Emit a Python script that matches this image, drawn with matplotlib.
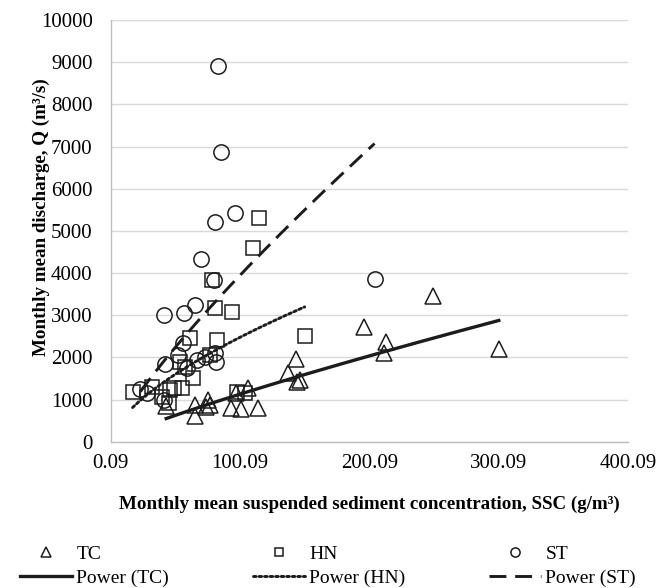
"""Monthly discharge vs. suspended sediment concentration with power trendlines."""

import matplotlib
matplotlib.use("Agg")
import matplotlib.pyplot as plt
import numpy as np
from matplotlib.ticker import FormatStrFormatter

# Monthly mean SSC (g/m3) and discharge (m3/s) per station
tc_ssc = [43, 65, 65, 75, 77, 74, 93, 97, 101, 106, 114,
          137, 143, 146, 144, 196, 213, 211, 249, 300]
tc_q = [850, 870, 600, 990, 880, 830, 800, 1160, 780, 1270, 800,
        1620, 1950, 1460, 1420, 2730, 2370, 2100, 3450, 2200]

hn_ssc = [17, 32, 40, 45, 46, 49, 55, 54, 57.5, 61, 64,
          77, 78, 81, 82, 94, 97.5, 104, 110, 115, 150]
hn_q = [1190, 1300, 1070, 910, 1230, 1270, 1270, 1900, 1780, 2450, 1500,
        2060, 3840, 3160, 2410, 3080, 1190, 1150, 4590, 5300, 2510]

st_ssc = [23, 28, 41, 42, 41, 52, 56, 57, 59, 65, 67,
          70, 73, 80, 80.7, 81, 81.5, 83, 85, 96, 204]
st_q = [1240, 1150, 1000, 1840, 3000, 2060, 2350, 3060, 1740, 3240, 1940,
        4330, 2020, 3830, 5220, 2100, 1900, 8900, 6860, 5420, 3850]

stations = ["TC", "HN", "ST"]
x_ticks = [0.09, 100.09, 200.09, 300.09, 400.09]
y_ticks = list(range(0, 10001, 1000))

FONT = "Liberation Serif"
INK = "#1c1c1c"
GRID = "#d9d9d9"


def power_fit(x, y):
    """Least-squares power law y = a * x**b, fitted in log space."""
    b, log_a = np.polyfit(np.log(x), np.log(y), 1)
    return np.exp(log_a), b


plt.rcParams["font.family"] = [FONT, "DejaVu Serif"]

fig = plt.figure(figsize=(6.66, 5.88), dpi=100, facecolor="white")
ax = fig.add_axes([0.1662, 0.2488, 0.7772, 0.7172])

# marker, marker size, trendline style, trendline width
styles = [
    ("^", 11.5, "-", 2.4),
    ("s", 10.0, (0, (0.9, 1.0)), 2.1),
    ("o", 11.0, (0, (5.8, 3.0)), 2.1),
]
data = [(tc_ssc, tc_q), (hn_ssc, hn_q), (st_ssc, st_q)]

handles = []
for name, (xs, ys), (marker, ms, ls, lw) in zip(stations, data, styles):
    xs = np.asarray(xs, dtype=float)
    ys = np.asarray(ys, dtype=float)
    pts, = ax.plot(xs, ys, linestyle="none", marker=marker, markersize=ms,
                   markerfacecolor="none", markeredgecolor=INK,
                   markeredgewidth=1.1, label=name, zorder=3)
    a, b = power_fit(xs, ys)
    xf = np.linspace(xs.min(), xs.max(), 200)
    fit, = ax.plot(xf, a * xf ** b, color=INK, linestyle=ls, linewidth=lw,
                   label=f"Power ({name})", zorder=4)
    fit.set_dash_capstyle("round" if marker == "s" else "butt")
    handles.extend([pts, fit])

ax.set_xlim(x_ticks[0], x_ticks[-1])
ax.set_ylim(y_ticks[0], y_ticks[-1])
ax.set_xticks(x_ticks)
ax.set_yticks(y_ticks)
ax.xaxis.set_major_formatter(FormatStrFormatter("%.2f"))
ax.tick_params(axis="both", length=0, labelsize=15, colors="black")
ax.tick_params(axis="y", pad=13)
ax.tick_params(axis="x", pad=8.5)

ax.grid(axis="y", color=GRID, linewidth=1.0, zorder=0)
ax.set_axisbelow(True)
for side in ("top", "right"):
    ax.spines[side].set_visible(False)
for side in ("left", "bottom"):
    ax.spines[side].set_color("#bfbfbf")
    ax.spines[side].set_linewidth(1.0)

fig.text(0.555, 1 - 504 / 588,
         "Monthly mean suspended sediment concentration, SSC (g/m³)",
         ha="center", va="center", fontsize=13.7, fontweight="bold")
fig.text(41 / 666, 1 - 217 / 588, "Monthly mean discharge, Q (m³/s)",
         ha="center", va="center", rotation=90, fontsize=13.7,
         fontweight="bold")

fig.legend(handles=handles, loc="center", ncol=3,
           bbox_to_anchor=(0.4925, 1 - 566 / 588), frameon=False,
           fontsize=14, markerscale=0.6, handlelength=2.7,
           handletextpad=0.2, columnspacing=4.3, labelspacing=0.3,
           borderpad=0)

fig.savefig("out.png", dpi=100, facecolor="white")
